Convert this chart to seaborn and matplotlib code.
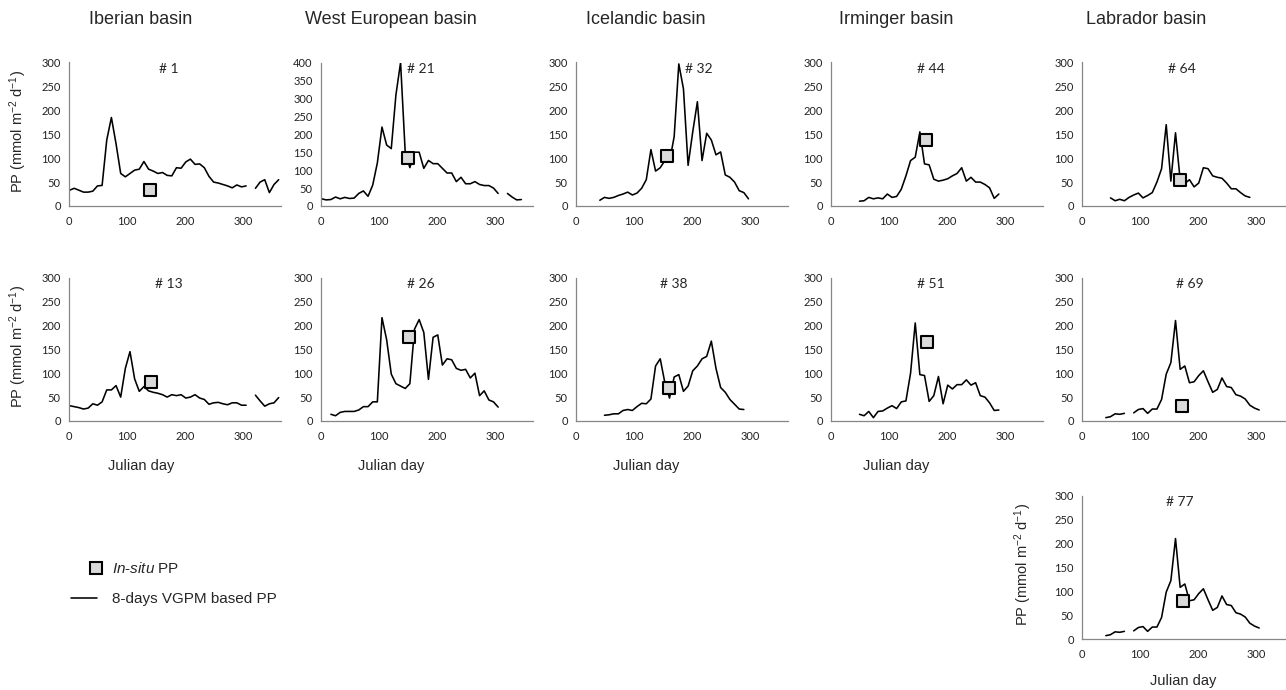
import numpy as np
import pandas as pd
import matplotlib.pyplot as plt
from matplotlib.lines import Line2D
from matplotlib.legend_handler import HandlerLine2DCompound
import seaborn as sns

nan = np.nan

# 8-day composite start days (Julian day)
DAYS = [1, 9, 17, 25, 33, 41, 49, 57, 65, 73, 81, 89, 97, 105, 113, 121,
        129, 137, 145, 153, 161, 169, 177, 185, 193, 201, 209, 217, 225, 233,
        241, 249, 257, 265, 273, 281, 289, 297, 305, 313, 321, 329, 337, 345,
        353, 361]

BASINS = ["Iberian basin", "West European basin", "Icelandic basin",
          "Irminger basin", "Labrador basin"]

# 8-days VGPM based PP (mmol m-2 d-1), one series per station
pp_1 = [33, 37, 33, 29, 29, 31, 42, 43, 138, 185, 130, 68, 61, 68, 75, 77,
        93, 77, 73, 68, 70, 64, 63, 80, 79, 92, 98, 87, 88, 80, 62, 50, 48,
        45, 42, 38, 44, 40, 42, nan, 37, 50, 55, 28, 45, 55]
pp_21 = [20, 17, 18, 25, 20, 24, 21, 22, 35, 42, 27, 58, 120, 220, 170, 160,
         310, 400, 149, 107, 150, 150, 105, 127, 118, 118, 105, 92, 92, 68,
         80, 62, 62, 68, 60, 57, 57, 50, 35, nan, 35, 25, 17, 18, nan, nan]
pp_32 = [nan, nan, nan, nan, nan, 12, 18, 16, 18, 22, 25, 29, 23, 27, 37,
         55, 118, 73, 80, 95, 92, 145, 297, 245, 85, 155, 218, 95, 152, 138,
         107, 113, 65, 60, 50, 32, 28, 15, nan, nan, nan, nan, nan, nan, nan,
         nan]
pp_44 = [nan, nan, nan, nan, nan, nan, 10, 11, 18, 15, 17, 15, 25, 18, 20,
         35, 63, 95, 102, 155, 88, 86, 56, 52, 54, 57, 63, 68, 80, 52, 60, 50,
         50, 45, 38, 16, 25, nan, nan, nan, nan, nan, nan, nan, nan, nan]
pp_64 = [nan, nan, nan, nan, nan, nan, 17, 11, 14, 11, 18, 23, 27, 17, 22,
         28, 50, 78, 170, 52, 153, 55, 47, 55, 40, 48, 80, 78, 63, 60, 58, 48,
         36, 36, 28, 21, 18, nan, nan, nan, nan, nan, nan, nan, nan, nan]
pp_13 = [32, 30, 28, 25, 27, 36, 33, 40, 65, 65, 74, 50, 110, 145, 88, 62,
         72, 63, 60, 58, 55, 50, 55, 53, 55, 48, 50, 55, 48, 45, 35, 38, 39,
         36, 34, 38, 38, 33, 33, nan, 54, 42, 31, 36, 38, 49]
pp_26 = [nan, nan, 14, 11, 18, 20, 20, 20, 23, 30, 30, 40, 40, 216, 170, 98,
         78, 73, 68, 78, 192, 212, 185, 87, 175, 180, 117, 130, 128, 110, 106,
         108, 90, 100, 53, 63, 44, 40, 29, nan, nan, nan, nan, nan, nan, nan]
pp_38 = [nan, nan, nan, nan, nan, nan, 12, 13, 15, 15, 22, 24, 22, 30, 37,
         36, 46, 115, 130, 80, 48, 92, 97, 62, 73, 105, 115, 130, 135, 167,
         110, 70, 60, 45, 35, 25, 24, nan, nan, nan, nan, nan, nan, nan, nan,
         nan]
pp_51 = [nan, nan, nan, nan, nan, nan, 14, 11, 20, 7, 20, 21, 27, 32, 26,
         40, 42, 100, 205, 97, 95, 41, 53, 93, 36, 75, 67, 76, 76, 86, 75, 80,
         53, 50, 38, 22, 23, nan, nan, nan, nan, nan, nan, nan, nan, nan]
pp_69 = [nan, nan, nan, nan, nan, 7, 9, 15, 14, 16, nan, 17, 24, 26, 16, 25,
         25, 45, 98, 122, 210, 108, 115, 80, 82, 95, 105, 82, 60, 66, 90, 72,
         70, 55, 52, 46, 33, 27, 23, nan, nan, nan, nan, nan, nan, nan]
pp_77 = [nan, nan, nan, nan, nan, 7, 9, 15, 14, 16, nan, 17, 24, 26, 16, 25,
         25, 45, 98, 122, 210, 108, 115, 80, 82, 95, 105, 82, 60, 66, 90, 72,
         70, 55, 52, 46, 33, 27, 23, nan, nan, nan, nan, nan, nan, nan]

# in-situ PP: (julian day, value)
insitu_day = {1: 139, 21: 150, 32: 157, 44: 163, 64: 168, 13: 142, 26: 152,
              38: 160, 51: 166, 69: 172, 77: 174}
insitu_pp = {1: 33, 21: 135, 32: 105, 44: 137, 64: 54, 13: 81, 26: 175,
             38: 69, 51: 165, 69: 31, 77: 80}

# station, series, row, col, y max, title x (axes fraction)
PANELS = [
    (1, pp_1, 0, 0, 300, 0.47), (21, pp_21, 0, 1, 400, 0.47),
    (32, pp_32, 0, 2, 300, 0.58), (44, pp_44, 0, 3, 300, 0.47),
    (64, pp_64, 0, 4, 300, 0.47), (13, pp_13, 1, 0, 300, 0.47),
    (26, pp_26, 1, 1, 300, 0.47), (38, pp_38, 1, 2, 300, 0.46),
    (51, pp_51, 1, 3, 300, 0.47), (69, pp_69, 1, 4, 300, 0.51),
    (77, pp_77, 2, 4, 300, 0.46),
]

W, H = 1286, 690
COL_X = [69, 321, 576, 831, 1082]   # px of x=0
ROW_Y0 = [206, 421, 639]            # px of y=0
AX_W, AX_H = 212, 143.5
COL_CENTER = [141, 391, 646, 896, 1146]

SPINE = "#868686"
YLABEL = r"PP (mmol m$^{-2}$ d$^{-1}$)"
TICKFONT = ["Lato", "DejaVu Sans"]


class EndMarkerHandler(HandlerLine2DCompound):
    # put the legend marker at the right end of the handle, like the original
    def get_xdata(self, legend, xdescent, ydescent, width, height, fontsize):
        xdata = [-xdescent, -xdescent + width]
        return xdata, [width - xdescent - 1]


sns.set_theme(style="white")
plt.rcParams["font.family"] = ["Liberation Sans", "DejaVu Sans"]
plt.rcParams["mathtext.fontset"] = "custom"
plt.rcParams["mathtext.rm"] = "Liberation Sans"
plt.rcParams["mathtext.it"] = "Liberation Sans:italic"
plt.rcParams["mathtext.default"] = "regular"

fig = plt.figure(figsize=(W / 100, H / 100), dpi=100)

for station, pp, row, col, ymax, tx in PANELS:
    ax = fig.add_axes([COL_X[col] / W, 1 - ROW_Y0[row] / H, AX_W / W, AX_H / H])
    df = pd.DataFrame({"day": DAYS, "pp": pp})
    df["seg"] = df["pp"].isna().cumsum()
    df = df.dropna()
    sns.lineplot(data=df, x="day", y="pp", units="seg", estimator=None,
                 color="black", lw=1.15, ax=ax, legend=False)
    sns.scatterplot(x=[insitu_day[station]], y=[insitu_pp[station]], marker="s",
                    s=64, color="#d9d9d9", edgecolor="black", linewidth=1.5,
                    ax=ax, zorder=3, legend=False)

    ax.set_xlim(0, 365)
    ax.set_ylim(0, ymax)
    ax.set_xticks([0, 100, 200, 300])
    ax.set_yticks(range(0, ymax + 1, 50))
    ax.set_xlabel("")
    ax.set_ylabel("")
    for side in ["top", "right"]:
        ax.spines[side].set_visible(False)
    for side in ["left", "bottom"]:
        ax.spines[side].set_color(SPINE)
        ax.spines[side].set_linewidth(0.9)
    ax.tick_params(direction="inout", length=5, width=0.9, color=SPINE,
                   labelsize=8, labelcolor="#222222")
    ax.tick_params(axis="y", pad=3.5)
    ax.tick_params(axis="x", pad=5)
    for lab in ax.get_xticklabels() + ax.get_yticklabels():
        lab.set_family(TICKFONT)
    ax.patch.set_alpha(0)
    ax.text(tx, 0.955, f"# {station}", transform=ax.transAxes, ha="center",
            va="center", fontsize=10, family=TICKFONT)

    if col == 0 or row == 2:
        ax.set_ylabel(YLABEL, fontsize=10.5)
        ax.yaxis.set_label_coords(-0.19 if row < 2 else -0.225, 0.52)

for c, name in enumerate(BASINS):
    fig.text(COL_CENTER[c] / W, 1 - 20 / H, name, ha="center", va="center",
             fontsize=13)
for c in range(4):
    fig.text(COL_CENTER[c] / W, 1 - 466 / H, "Julian day", ha="center",
             va="center", fontsize=10.5)
fig.text(1183 / W, 1 - 681 / H, "Julian day", ha="center", va="center",
         fontsize=10.5)

handles = [
    Line2D([], [], marker="s", ls="none", mfc="#d9d9d9", mec="black", ms=8,
           mew=1.5),
    Line2D([], [], color="black", lw=1.15),
]
labels = [r"$\mathit{In}$-$\mathit{situ}$ PP", "8-days VGPM based PP"]
fig.legend(handles, labels, loc="upper left",
           bbox_to_anchor=(71 / W, 1 - 561 / H), frameon=False, fontsize=11,
           handlelength=1.7, handletextpad=1.0, labelspacing=1.05,
           borderpad=0, borderaxespad=0,
           handler_map={Line2D: EndMarkerHandler()})

fig.savefig("out.png", dpi=100)
